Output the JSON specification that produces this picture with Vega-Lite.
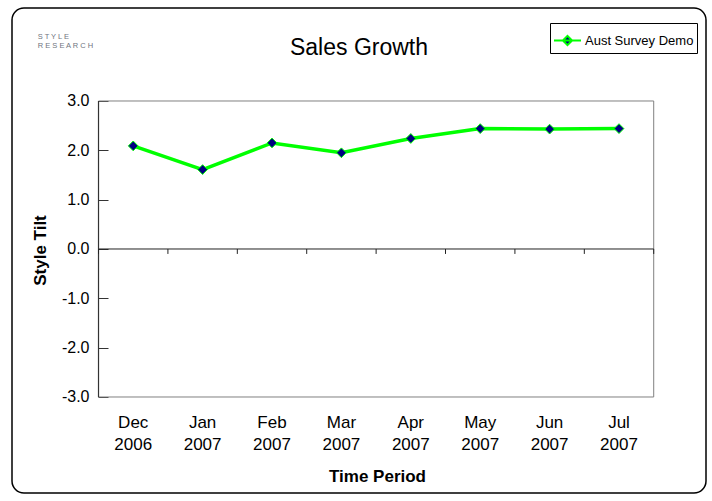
{
  "$schema": "https://vega.github.io/schema/vega-lite/v6.json",
  "width": 694,
  "height": 485,
  "autosize": {"type": "none"},
  "padding": {"left": 12, "top": 8, "right": 6, "bottom": 8},
  "background": "#ffffff",
  "title": {
    "text": "Sales Growth",
    "font": "Liberation Sans",
    "fontSize": 23,
    "fontWeight": "normal",
    "color": "#000000",
    "anchor": "middle",
    "baseline": "alphabetic",
    "offset": 0,
    "dy": 70
  },
  "data": {
    "values": [
      {"period": "Dec 2006", "series": "Aust Survey Demo", "value": 2.09},
      {"period": "Jan 2007", "series": "Aust Survey Demo", "value": 1.61},
      {"period": "Feb 2007", "series": "Aust Survey Demo", "value": 2.15},
      {"period": "Mar 2007", "series": "Aust Survey Demo", "value": 1.95},
      {"period": "Apr 2007", "series": "Aust Survey Demo", "value": 2.24},
      {"period": "May 2007", "series": "Aust Survey Demo", "value": 2.44},
      {"period": "Jun 2007", "series": "Aust Survey Demo", "value": 2.43},
      {"period": "Jul 2007", "series": "Aust Survey Demo", "value": 2.44}
    ]
  },
  "encoding": {
    "x": {
      "field": "period",
      "type": "nominal",
      "sort": null,
      "scale": {
        "type": "band",
        "domain": ["Dec 2006", "Jan 2007", "Feb 2007", "Mar 2007", "Apr 2007", "May 2007", "Jun 2007", "Jul 2007"],
        "paddingInner": 0,
        "paddingOuter": 1.0657,
        "align": 0.6233
      },
      "axis": {
        "orient": "bottom",
        "offset": -96,
        "domain": false,
        "ticks": false,
        "tickSize": 0,
        "grid": false,
        "labelAngle": 0,
        "labelExpr": "split(datum.label, ' ')",
        "labelFont": "Liberation Sans",
        "labelFontSize": 17,
        "labelColor": "#000000",
        "labelLineHeight": 22,
        "labelPadding": 17,
        "labelBaseline": "top",
        "title": "Time Period",
        "titleFont": "Liberation Sans",
        "titleFontSize": 17,
        "titleFontWeight": "bold",
        "titleColor": "#000000",
        "titleX": 365,
        "titleY": 71,
        "titleBaseline": "top"
      }
    },
    "y": {
      "field": "value",
      "type": "quantitative",
      "scale": {"domain": [-4.946, 4.885], "nice": false, "zero": false},
      "axis": {
        "orient": "left",
        "offset": -96,
        "values": [-3, -2, -1, 0, 1, 2, 3],
        "labelExpr": "datum.value < 0 ? '-' + format(-datum.value, '.1f') : format(datum.value, '.1f')",
        "domain": false,
        "grid": false,
        "ticks": true,
        "tickSize": 10,
        "tickColor": "#333333",
        "tickWidth": 1,
        "labelFont": "Liberation Sans",
        "labelFontSize": 16,
        "labelColor": "#000000",
        "labelPadding": 9,
        "title": "Style Tilt",
        "titleFont": "Liberation Sans",
        "titleFontSize": 17,
        "titleFontWeight": "bold",
        "titleColor": "#000000",
        "titleX": -68,
        "titleY": 242,
        "titleAngle": -90,
        "titleBaseline": "middle",
        "titleAlign": "center"
      }
    }
  },
  "layer": [
    {
      "data": {"values": [{"edge": "top", "v": 3}, {"edge": "bottom", "v": -3}]},
      "mark": {"type": "rule", "color": "#808080", "strokeWidth": 1},
      "encoding": {
        "x": {"datum": "Dec 2006", "bandPosition": 0},
        "x2": {"datum": "Jul 2007", "bandPosition": 1},
        "y": {"field": "v", "type": "quantitative"}
      }
    },
    {
      "data": {"values": [{"edge": "right", "period": "Jul 2007", "lo": -3, "hi": 3}]},
      "mark": {"type": "rule", "color": "#808080", "strokeWidth": 1},
      "encoding": {
        "x": {"field": "period", "type": "nominal", "bandPosition": 1},
        "y": {"field": "lo", "type": "quantitative"},
        "y2": {"field": "hi"}
      }
    },
    {
      "data": {"values": [{"edge": "zero", "v": 0}]},
      "mark": {"type": "rule", "color": "#222222", "strokeWidth": 1},
      "encoding": {
        "x": {"datum": "Dec 2006", "bandPosition": 0},
        "x2": {"datum": "Jul 2007", "bandPosition": 1},
        "y": {"field": "v", "type": "quantitative"}
      }
    },
    {
      "data": {"values": [{"edge": "left", "period": "Dec 2006", "lo": -3, "hi": 3}]},
      "mark": {"type": "rule", "color": "#333333", "strokeWidth": 1.2},
      "encoding": {
        "x": {"field": "period", "type": "nominal", "bandPosition": 0},
        "y": {"field": "lo", "type": "quantitative"},
        "y2": {"field": "hi"}
      }
    },
    {
      "mark": {"type": "rule", "color": "#222222", "strokeWidth": 1},
      "encoding": {
        "x": {"field": "period", "type": "nominal", "sort": null, "bandPosition": 0},
        "y": {"datum": 0},
        "y2": {"datum": -0.1}
      }
    },
    {
      "data": {"values": [{"edge": "lasttick", "period": "Jul 2007", "lo": -0.1, "hi": 0}]},
      "mark": {"type": "rule", "color": "#222222", "strokeWidth": 1},
      "encoding": {
        "x": {"field": "period", "type": "nominal", "bandPosition": 1},
        "y": {"field": "lo", "type": "quantitative"},
        "y2": {"field": "hi"}
      }
    },
    {
      "mark": {"type": "line", "strokeWidth": 3.5},
      "encoding": {
        "color": {
          "field": "series",
          "type": "nominal",
          "scale": {"range": ["#00ff00"]},
          "legend": {
            "orient": "none",
            "legendX": 538,
            "legendY": 15,
            "title": null,
            "symbolType": "M-1,0L1,0M0,-0.34L0.34,0L0,0.34L-0.34,0Z",
            "symbolSize": 729,
            "symbolFillColor": "#000080",
            "symbolStrokeColor": "#00ff00",
            "symbolStrokeWidth": 2,
            "symbolOpacity": 1,
            "labelFont": "Liberation Sans",
            "labelFontSize": 13,
            "labelColor": "#000000",
            "labelOffset": 3,
            "strokeColor": "#000000",
            "fillColor": "#ffffff",
            "padding": 3,
            "encode": {"symbols": {"update": {"fill": {"value": "#000080"}, "fillOpacity": {"value": 1}, "stroke": {"value": "#00ff00"}}}}
          }
        }
      }
    },
    {
      "mark": {"type": "point", "shape": "diamond", "filled": true, "fill": "#000080", "stroke": "#00ff00", "strokeWidth": 1, "size": 95, "opacity": 1}
    },
    {
      "data": {"values": [{"logo": "S T Y L E", "row": 4.257}, {"logo": "R E S E A R C H", "row": 4.074}]},
      "mark": {"type": "text", "align": "left", "baseline": "alphabetic", "font": "Liberation Sans", "fontSize": 7.5, "color": "#6f7580"},
      "encoding": {
        "x": {"datum": "Dec 2006", "bandPosition": -0.876},
        "y": {"field": "row", "type": "quantitative"},
        "text": {"field": "logo"}
      }
    }
  ],
  "config": {
    "view": {"stroke": "#000000", "strokeWidth": 1.5, "cornerRadius": 12, "fill": "#ffffff"}
  }
}
